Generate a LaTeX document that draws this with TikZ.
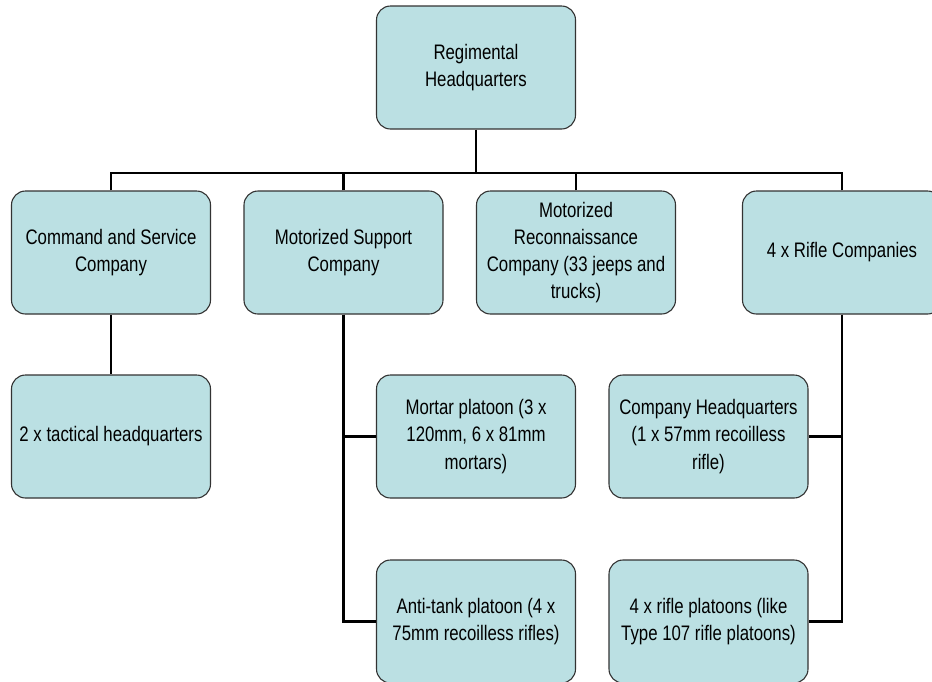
\documentclass[tikz,border=0pt]{standalone}
\usepackage{fontspec}
\setmainfont[FakeStretch=0.8]{Liberation Sans}
\begin{document}
\begin{tikzpicture}[x=1pt,y=-1pt,
  orgbox/.style={draw=black!80, line width=1.1pt, fill=boxfill, rounded corners=14pt,
    minimum width=199pt, minimum height=123pt, align=center, inner sep=2pt,
    font=\fontsize{21}{27.2}\selectfont},
  link/.style={line width=2.6pt, black}]
\definecolor{boxfill}{HTML}{BBE0E3}
\useasboundingbox (0,0) rectangle (932,681);
\node[orgbox] (hq) at (476,67.5) {Regimental\\Headquarters};
\node[orgbox] (cs) at (111,252.5) {Command and Service\\Company};
\node[orgbox] (ms) at (343.5,252.5) {Motorized Support\\Company};
\node[orgbox] (mr) at (576,252.5) {Motorized\\Reconnaissance\\Company (33 jeeps and\\trucks)};
\node[orgbox] (rc) at (842,252.5) {4 x Rifle Companies};
\node[orgbox] (th) at (111,436.5) {2 x tactical headquarters};
\node[orgbox] (mp) at (476,436.5) {Mortar platoon (3 x\\120mm, 6 x 81mm\\mortars)};
\node[orgbox] (ch) at (708.5,436.5) {Company Headquarters\\(1 x 57mm recoilless\\rifle)};
\node[orgbox] (at) at (476,621.5) {Anti-tank platoon (4 x\\75mm recoilless rifles)};
\node[orgbox] (rp) at (708.5,621.5) {4 x rifle platoons (like\\Type 107 rifle platoons)};
\coordinate (bus) at (476,173);
\draw[link] (hq.south) -- (bus);
\draw[link] (cs.north) |- (bus);
\draw[link] (ms.north) |- (bus);
\draw[link] (mr.north) |- (bus);
\draw[link] (rc.north) |- (bus);
\draw[link] (cs.south) -- (th.north);
\draw[link] (ms.south) |- (mp.west);
\draw[link] (ms.south) |- (at.west);
\draw[link] (rc.south) |- (ch.east);
\draw[link] (rc.south) |- (rp.east);
\end{tikzpicture}
\end{document}
